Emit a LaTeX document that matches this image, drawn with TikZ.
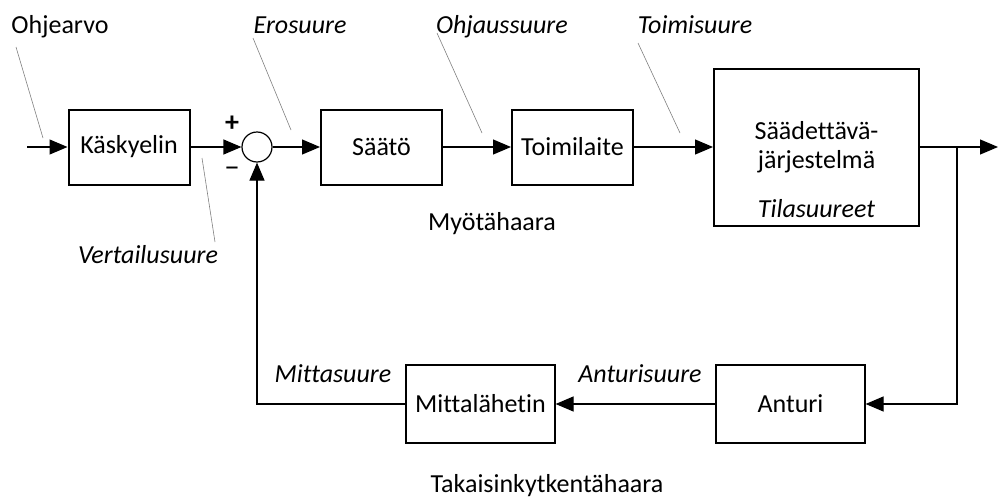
\documentclass[tikz,border=0pt]{standalone}
\usepackage{fontspec}
\setmainfont{Carlito}[Ligatures=CommonOff]
\usetikzlibrary{arrows.meta}
\begin{document}
\begin{tikzpicture}[x=1pt, y=-1pt,
    every node/.style={font=\fontsize{26}{31}\selectfont},
    block/.style={draw, line width=2pt, minimum width=121pt, minimum height=75pt, inner sep=0pt},
    thinblock/.style={draw, line width=1.2pt, minimum width=149pt, minimum height=78pt, inner sep=0pt},
    signal/.style={line width=1.2pt, -{Triangle[length=18pt, width=15pt]}},
    leader/.style={gray, line width=0.6pt},
    tag/.style={font=\fontsize{26}{31}\selectfont\itshape, anchor=base},
    basetext/.style={anchor=base}]
    \useasboundingbox (0,0) rectangle (1005,498);

    % Forward branch blocks
    \node[block] (kasky) at (129,147) {Käskyelin};
    \node[draw, circle, line width=1.2pt, minimum size=30pt, inner sep=0pt] (sum) at (257,147) {};
    \node[block] (saato) at (381.5,147) {Säätö};
    \node[block] (toimi) at (572.5,147) {Toimilaite};
    \node[block, minimum width=205pt, minimum height=157pt] (jarj) at (816.5,147.5) {};
    \node[basetext] (jarj1) at (816.5,139) {Säädettävä-};
    \node[basetext] (jarj2) at (816.5,168) {järjestelmä};
    \node[tag] (tila) at (816.5,217) {Tilasuureet};

    % Feedback branch blocks
    \node[thinblock] (anturi) at (790.5,404) {Anturi};
    \node[thinblock] (mitta) at (480.5,404) {Mittalähetin};

    % Signs at the summing point
    \node[font=\fontsize{28}{30}\selectfont\bfseries] (plus) at (232,124) {+};
    \node[font=\fontsize{30}{32}\selectfont] (minus) at (232,172) {−};

    % Signals
    \coordinate (in) at (27,147);
    \coordinate (out) at (998,147);
    \coordinate (branch) at (957,147);
    \draw[signal] (in) -- (kasky);
    \draw[signal] (kasky) -- (sum);
    \draw[signal] (sum) -- (saato);
    \draw[signal] (saato) -- (toimi);
    \draw[signal] (toimi.east) -- (toimi.east -| jarj.west);
    \draw[signal] (jarj.east |- out) -- (out);
    \draw[signal] (branch) |- (anturi);
    \draw[signal] (anturi) -- (mitta);
    \draw[signal] (mitta) -| (sum);

    % Signal names with leader lines
    \node[basetext] (ohje) at (60,33) {Ohjearvo};
    \node[tag] (ero) at (300,33) {Erosuure};
    \node[tag] (ohjaus) at (502,33) {Ohjaussuure};
    \node[tag] (toimis) at (695,33) {Toimisuure};
    \node[tag] (vert) at (148,263) {Vertailusuure};
    \node[tag] (mittas) at (333,382) {Mittasuure};
    \node[tag] (anturis) at (640,382) {Anturisuure};
    \coordinate (ohje1) at (16,47);   \coordinate (ohje2) at (43,138);
    \coordinate (ero1) at (253,38);   \coordinate (ero2) at (291,130);
    \coordinate (ohjaus1) at (437,33); \coordinate (ohjaus2) at (482,133);
    \coordinate (toimis1) at (638,43); \coordinate (toimis2) at (680,133);
    \coordinate (vert1) at (215,242); \coordinate (vert2) at (202,158);
    \draw[leader] (ohje1) -- (ohje2);
    \draw[leader] (ero1) -- (ero2);
    \draw[leader] (ohjaus1) -- (ohjaus2);
    \draw[leader] (toimis1) -- (toimis2);
    \draw[leader] (vert1) -- (vert2);

    % Branch names
    \node[basetext] (myota) at (492,230) {Myötähaara};
    \node[basetext] (takaisin) at (547,492) {Takaisinkytkentähaara};
\end{tikzpicture}
\end{document}
